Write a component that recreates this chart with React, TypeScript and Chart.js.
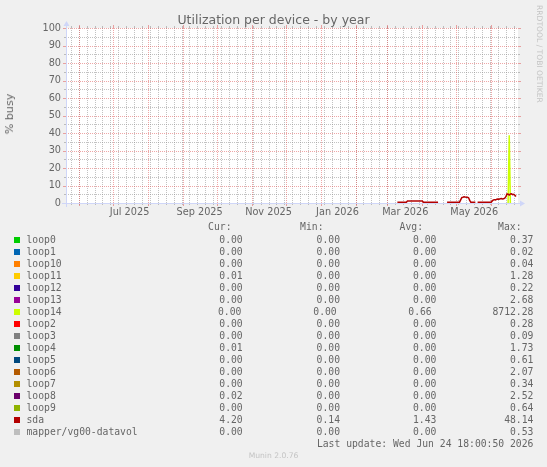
import React, { useEffect, useRef } from 'react';
import { Chart, registerables } from 'chart.js';

Chart.register(...registerables);

const IMG_W = 547;
const IMG_H = 467;

// ---- time range & axis labels ----
const rangeStart = '2025-05-20T18:00:50Z';
const rangeEnd = '2026-06-24T18:00:50Z';
const yTickValues = [0, 10, 20, 30, 40, 50, 60, 70, 80, 90, 100];
const yMinorValues = [5, 15, 25, 35, 45, 55, 65, 75, 85, 95];
const xLabelDates = ['2025-07-16', '2025-09-16', '2025-11-16', '2026-01-16', '2026-03-17', '2026-05-17'];
const xLabelTexts = ['Jul 2025', 'Sep 2025', 'Nov 2025', 'Jan 2026', 'Mar 2026', 'May 2026'];

// ---- series data ----
const sdaDates = [
  '2026-03-10', '2026-03-18', '2026-03-19', '2026-04-01', '2026-04-02', '2026-04-15', '2026-04-19',
  '2026-04-23', '2026-05-04', '2026-05-05', '2026-05-06', '2026-05-07', '2026-05-08', '2026-05-09',
  '2026-05-10', '2026-05-11', '2026-05-12', '2026-05-13', '2026-05-14', '2026-05-18', '2026-05-19',
  '2026-05-20', '2026-06-01', '2026-06-02', '2026-06-03', '2026-06-04', '2026-06-05', '2026-06-06',
  '2026-06-07', '2026-06-08', '2026-06-09', '2026-06-10', '2026-06-11', '2026-06-12', '2026-06-13',
  '2026-06-14', '2026-06-15', '2026-06-16', '2026-06-17', '2026-06-18', '2026-06-19', '2026-06-20',
  '2026-06-21', '2026-06-22', '2026-06-23',
];
const sdaValues: (number | null)[] = [
  0.5, 0.5, 1.1, 1.1, 0.5, 0.5, null,
  0.5, 0.5, 1.8, 3.1, 3.3, 3.6, 3.4,
  3.3, 3.3, 3.0, 1.5, 0.5, 0.5, null,
  0.5, 0.5, 1.2, 1.8, 1.9, 1.8, 2.2,
  2.3, 2.2, 2.4, 2.5, 2.3, 2.4, 2.8,
  3.6, 5.2, 5.0, 4.5, 5.1, 5.2, 4.8,
  5.0, 4.4, 3.7,
];
const loop14Dates = ['2026-06-16', '2026-06-17', '2026-06-18'];
const loop14Values = [0, 38.7, 0];

// ---- legend table ----
const seriesNames = [
  'loop0', 'loop1', 'loop10', 'loop11', 'loop12', 'loop13', 'loop14', 'loop2', 'loop3',
  'loop4', 'loop5', 'loop6', 'loop7', 'loop8', 'loop9', 'sda', 'mapper/vg00-datavol',
];
const seriesColors = [
  '#00CC00', '#0066B3', '#FF8000', '#FFCC00', '#330099', '#990099', '#CCFF00', '#FF0000', '#808080',
  '#008F00', '#00487D', '#B35A00', '#B38F00', '#6B006B', '#8FB300', '#B30000', '#BEBEBE',
];
const curValues = ['0.00', '0.00', '0.00', '0.01', '0.00', '0.00', '0.00', '0.00', '0.00', '0.01', '0.00', '0.00', '0.00', '0.02', '0.00', '4.20', '0.00'];
const minValues = ['0.00', '0.00', '0.00', '0.00', '0.00', '0.00', '0.00', '0.00', '0.00', '0.00', '0.00', '0.00', '0.00', '0.00', '0.00', '0.14', '0.00'];
const avgValues = ['0.00', '0.00', '0.00', '0.00', '0.00', '0.00', '0.66', '0.00', '0.00', '0.00', '0.00', '0.00', '0.00', '0.00', '0.00', '1.43', '0.00'];
const maxValues = ['0.37', '0.02', '0.04', '1.28', '0.22', '2.68', '8712.28', '0.28', '0.09', '1.73', '0.61', '2.07', '0.34', '2.52', '0.64', '48.14', '0.53'];
const columnHeaders = ['Cur:', 'Min:', 'Avg:', 'Max:'];
const chartTitle = 'Utilization per device - by year';
const yAxisTitle = '% busy';
const lastUpdate = 'Last update: Wed Jun 24 18:00:50 2026';
const watermark = 'Munin 2.0.76';
const logoText = 'RRDTOOL / TOBI OETIKER';

const T = (d: string) => Date.parse(d.length === 10 ? d + 'T00:00:00Z' : d);

// ---- layout ----
const PLOT_LEFT = 66;
const PLOT_TOP = 28;
const PLOT_RIGHT = 518;
const PLOT_BOTTOM = 203;
const X_AXIS_H = 20;

const FONT = "'DejaVu Sans', sans-serif";
const MONO = "'DejaVu Sans Mono', monospace";
const TEXT_COLOR = '#666666';
const AXIS_COLOR = '#CFD6F8';
const GRID_MINOR = 'rgba(143,143,143,0.55)';
const GRID_MAJOR = 'rgba(222,79,79,0.5)';

const rrdPlugin = {
  id: 'rrdLook',
  beforeDraw(chart: any) {
    const { ctx, chartArea: a } = chart;
    ctx.save();
    ctx.fillStyle = '#F0F0F0';
    ctx.fillRect(0, 0, chart.width, chart.height);
    ctx.fillStyle = '#FFFFFF';
    ctx.fillRect(a.left, a.top, a.right - a.left, a.bottom - a.top);
    ctx.restore();
  },
  beforeDatasetsDraw(chart: any) {
    const { ctx, chartArea: a, scales } = chart;
    const xs = scales.x;
    const ys = scales.y;
    ctx.save();
    ctx.lineWidth = 1;
    const vline = (px: number, color: string, ext: number) => {
      const x = Math.round(px) + 0.5;
      ctx.strokeStyle = color;
      ctx.setLineDash([1, 1]);
      ctx.beginPath();
      ctx.moveTo(x, a.top);
      ctx.lineTo(x, a.bottom);
      ctx.stroke();
      ctx.setLineDash([]);
      ctx.beginPath();
      ctx.moveTo(x, a.top - ext);
      ctx.lineTo(x, a.top);
      ctx.moveTo(x, a.bottom);
      ctx.lineTo(x, a.bottom + ext);
      ctx.stroke();
    };
    const hline = (py: number, color: string, ext: number) => {
      const y = Math.round(py) + 0.5;
      ctx.strokeStyle = color;
      ctx.setLineDash([1, 1]);
      ctx.beginPath();
      ctx.moveTo(a.left, y);
      ctx.lineTo(a.right, y);
      ctx.stroke();
      ctx.setLineDash([]);
      ctx.beginPath();
      ctx.moveTo(a.left - ext, y);
      ctx.lineTo(a.left, y);
      ctx.moveTo(a.right, y);
      ctx.lineTo(a.right + ext, y);
      ctx.stroke();
    };
    const t0 = xs.min;
    const t1 = xs.max;
    const DAY = 86400000;
    // weekly minor lines (Sundays)
    const d0 = new Date(t0);
    let wk = Date.UTC(d0.getUTCFullYear(), d0.getUTCMonth(), d0.getUTCDate());
    while (new Date(wk).getUTCDay() !== 0 || wk < t0) wk += DAY;
    for (let t = wk; t <= t1; t += 7 * DAY) vline(xs.getPixelForValue(t), GRID_MINOR, 2);
    yMinorValues.forEach((v) => hline(ys.getPixelForValue(v), GRID_MINOR, 2));
    // monthly major lines
    for (let k = 0; k < 16; k++) {
      const t = Date.UTC(d0.getUTCFullYear(), d0.getUTCMonth() + 1 + k, 1);
      if (t > t1) break;
      vline(xs.getPixelForValue(t), GRID_MAJOR, 3);
    }
    yTickValues.forEach((v) => hline(ys.getPixelForValue(v), GRID_MAJOR, 3));
    ctx.restore();
  },
  afterDatasetsDraw(chart: any) {
    const { ctx, chartArea: a } = chart;
    ctx.save();
    ctx.strokeStyle = AXIS_COLOR;
    ctx.fillStyle = AXIS_COLOR;
    ctx.lineWidth = 1;
    const y0 = Math.round(a.bottom) + 0.5;
    const x0 = Math.round(a.left) + 0.5;
    ctx.beginPath();
    ctx.moveTo(a.left - 4, y0);
    ctx.lineTo(a.right + 4, y0);
    ctx.moveTo(x0, a.bottom + 4);
    ctx.lineTo(x0, a.top - 4);
    ctx.stroke();
    ctx.beginPath();
    ctx.moveTo(a.right + 2, y0 - 3);
    ctx.lineTo(a.right + 2, y0 + 3);
    ctx.lineTo(a.right + 7, y0);
    ctx.closePath();
    ctx.fill();
    ctx.beginPath();
    ctx.moveTo(x0 - 3, a.top - 2);
    ctx.lineTo(x0 + 3, a.top - 2);
    ctx.lineTo(x0, a.top - 7);
    ctx.closePath();
    ctx.fill();
    ctx.restore();
  },
};

const abs = (extra: React.CSSProperties): React.CSSProperties => ({
  position: 'absolute',
  whiteSpace: 'pre',
  margin: 0,
  padding: 0,
  ...extra,
});

export default function App() {
  const canvasRef = useRef<HTMLCanvasElement | null>(null);

  useEffect(() => {
    const canvas = canvasRef.current;
    if (!canvas) return;
    const chart = new Chart(canvas, {
      type: 'line',
      data: {
        datasets: [
          {
            label: 'sda',
            data: sdaDates.map((d, i) => ({ x: T(d), y: sdaValues[i] })),
            borderColor: '#B30000',
            backgroundColor: '#B30000',
            borderWidth: 1.5,
            pointRadius: 0,
            spanGaps: false,
            tension: 0,
            order: 0,
          },
          {
            label: 'loop14',
            data: loop14Dates.map((d, i) => ({ x: T(d), y: loop14Values[i] })),
            borderColor: '#CCFF00',
            backgroundColor: '#CCFF00',
            borderWidth: 1.5,
            pointRadius: 0,
            spanGaps: false,
            tension: 0,
            order: 1,
          },
        ] as any,
      },
      options: {
        animation: false,
        responsive: false,
        devicePixelRatio: 1,
        layout: {
          padding: {
            left: 0,
            top: PLOT_TOP,
            right: IMG_W - PLOT_RIGHT,
            bottom: IMG_H - PLOT_BOTTOM - X_AXIS_H,
          },
        },
        plugins: {
          legend: { display: false },
          tooltip: { enabled: false },
          title: { display: false },
        },
        scales: {
          x: {
            type: 'linear',
            min: T(rangeStart),
            max: T(rangeEnd),
            grid: { display: false, drawTicks: false },
            border: { display: false },
            afterBuildTicks: (s: any) => {
              s.ticks = xLabelDates.map((d) => ({ value: T(d) }));
            },
            afterFit: (s: any) => {
              s.height = X_AXIS_H;
            },
            ticks: {
              autoSkip: false,
              maxRotation: 0,
              minRotation: 0,
              padding: 4,
              color: TEXT_COLOR,
              font: { family: FONT, size: 9.72 },
              callback: (_v: any, i: number) => xLabelTexts[i],
            },
          },
          y: {
            type: 'linear',
            min: 0,
            max: 100,
            grid: { display: false, drawTicks: false },
            border: { display: false },
            afterBuildTicks: (s: any) => {
              s.ticks = yTickValues.map((v) => ({ value: v }));
            },
            afterFit: (s: any) => {
              s.width = PLOT_LEFT;
            },
            ticks: {
              padding: 5,
              color: TEXT_COLOR,
              font: { family: FONT, size: 9.72 },
              callback: (v: any) => String(v),
            },
          },
        },
      } as any,
      plugins: [rrdPlugin],
    });
    return () => chart.destroy();
  }, []);

  const colRight = [242.7, 340, 436.4, 533.4];
  const wideShift = [-1.3, -3.3, -4.7, 0];
  const headerRight = [231.5, 323.5, 423, 521.5];
  const legendFont: React.CSSProperties = {
    fontFamily: MONO,
    fontSize: '9.72px',
    color: TEXT_COLOR,
    height: 12,
    lineHeight: '12px',
  };

  return (
    <div
      style={{
        position: 'fixed',
        left: 0,
        top: 0,
        width: IMG_W,
        height: IMG_H,
        background: '#F0F0F0',
        overflow: 'hidden',
      }}
    >
      <canvas
        ref={canvasRef}
        width={IMG_W}
        height={IMG_H}
        style={{ position: 'absolute', left: 0, top: 0, width: IMG_W, height: IMG_H }}
      />
      <div
        style={abs({
          left: 0,
          top: 12,
          width: IMG_W,
          textAlign: 'center',
          fontFamily: FONT,
          fontSize: '12.5px',
          lineHeight: '16px',
          color: TEXT_COLOR,
        })}
      >
        {chartTitle}
      </div>
      <div
        style={abs({
          left: 10,
          top: 114,
          transform: 'translate(-50%, -50%) rotate(-90deg)',
          fontFamily: FONT,
          fontSize: '11.1px',
          lineHeight: '14px',
          color: TEXT_COLOR,
        })}
      >
        {yAxisTitle}
      </div>
      <div
        style={abs({
          left: 535,
          top: 5,
          writingMode: 'vertical-rl',
          fontFamily: FONT,
          fontSize: '7.6px',
          lineHeight: '9px',
          color: '#C4C4C4',
        })}
      >
        {logoText}
      </div>
      {columnHeaders.map((h, c) => (
        <div key={h} style={abs({ ...legendFont, right: IMG_W - headerRight[c], top: 227 - 6 })}>
          {h}
        </div>
      ))}
      {seriesNames.map((name, i) => {
        const yc = 240 + i * 12;
        const wide = maxValues[i].length > 6;
        const vals = [curValues[i], minValues[i], avgValues[i], maxValues[i]];
        return (
          <React.Fragment key={name}>
            <div
              style={abs({
                left: 14,
                top: yc - 3,
                width: 6,
                height: 6,
                background: seriesColors[i],
              })}
            />
            <div style={abs({ ...legendFont, left: 26.5, top: yc - 6 })}>{name}</div>
            {vals.map((v, c) => (
              <div
                key={c}
                style={abs({
                  ...legendFont,
                  right: IMG_W - (colRight[c] + (wide ? wideShift[c] : 0)),
                  top: yc - 6,
                })}
              >
                {v}
              </div>
            ))}
          </React.Fragment>
        );
      })}
      <div style={abs({ ...legendFont, right: IMG_W - 533.4, top: 444 - 6 })}>{lastUpdate}</div>
      <div
        style={abs({
          left: 0,
          width: IMG_W,
          top: 456 - 6,
          textAlign: 'center',
          fontFamily: FONT,
          fontSize: '7.6px',
          lineHeight: '12px',
          color: '#C4C4C4',
        })}
      >
        {watermark}
      </div>
    </div>
  );
}
